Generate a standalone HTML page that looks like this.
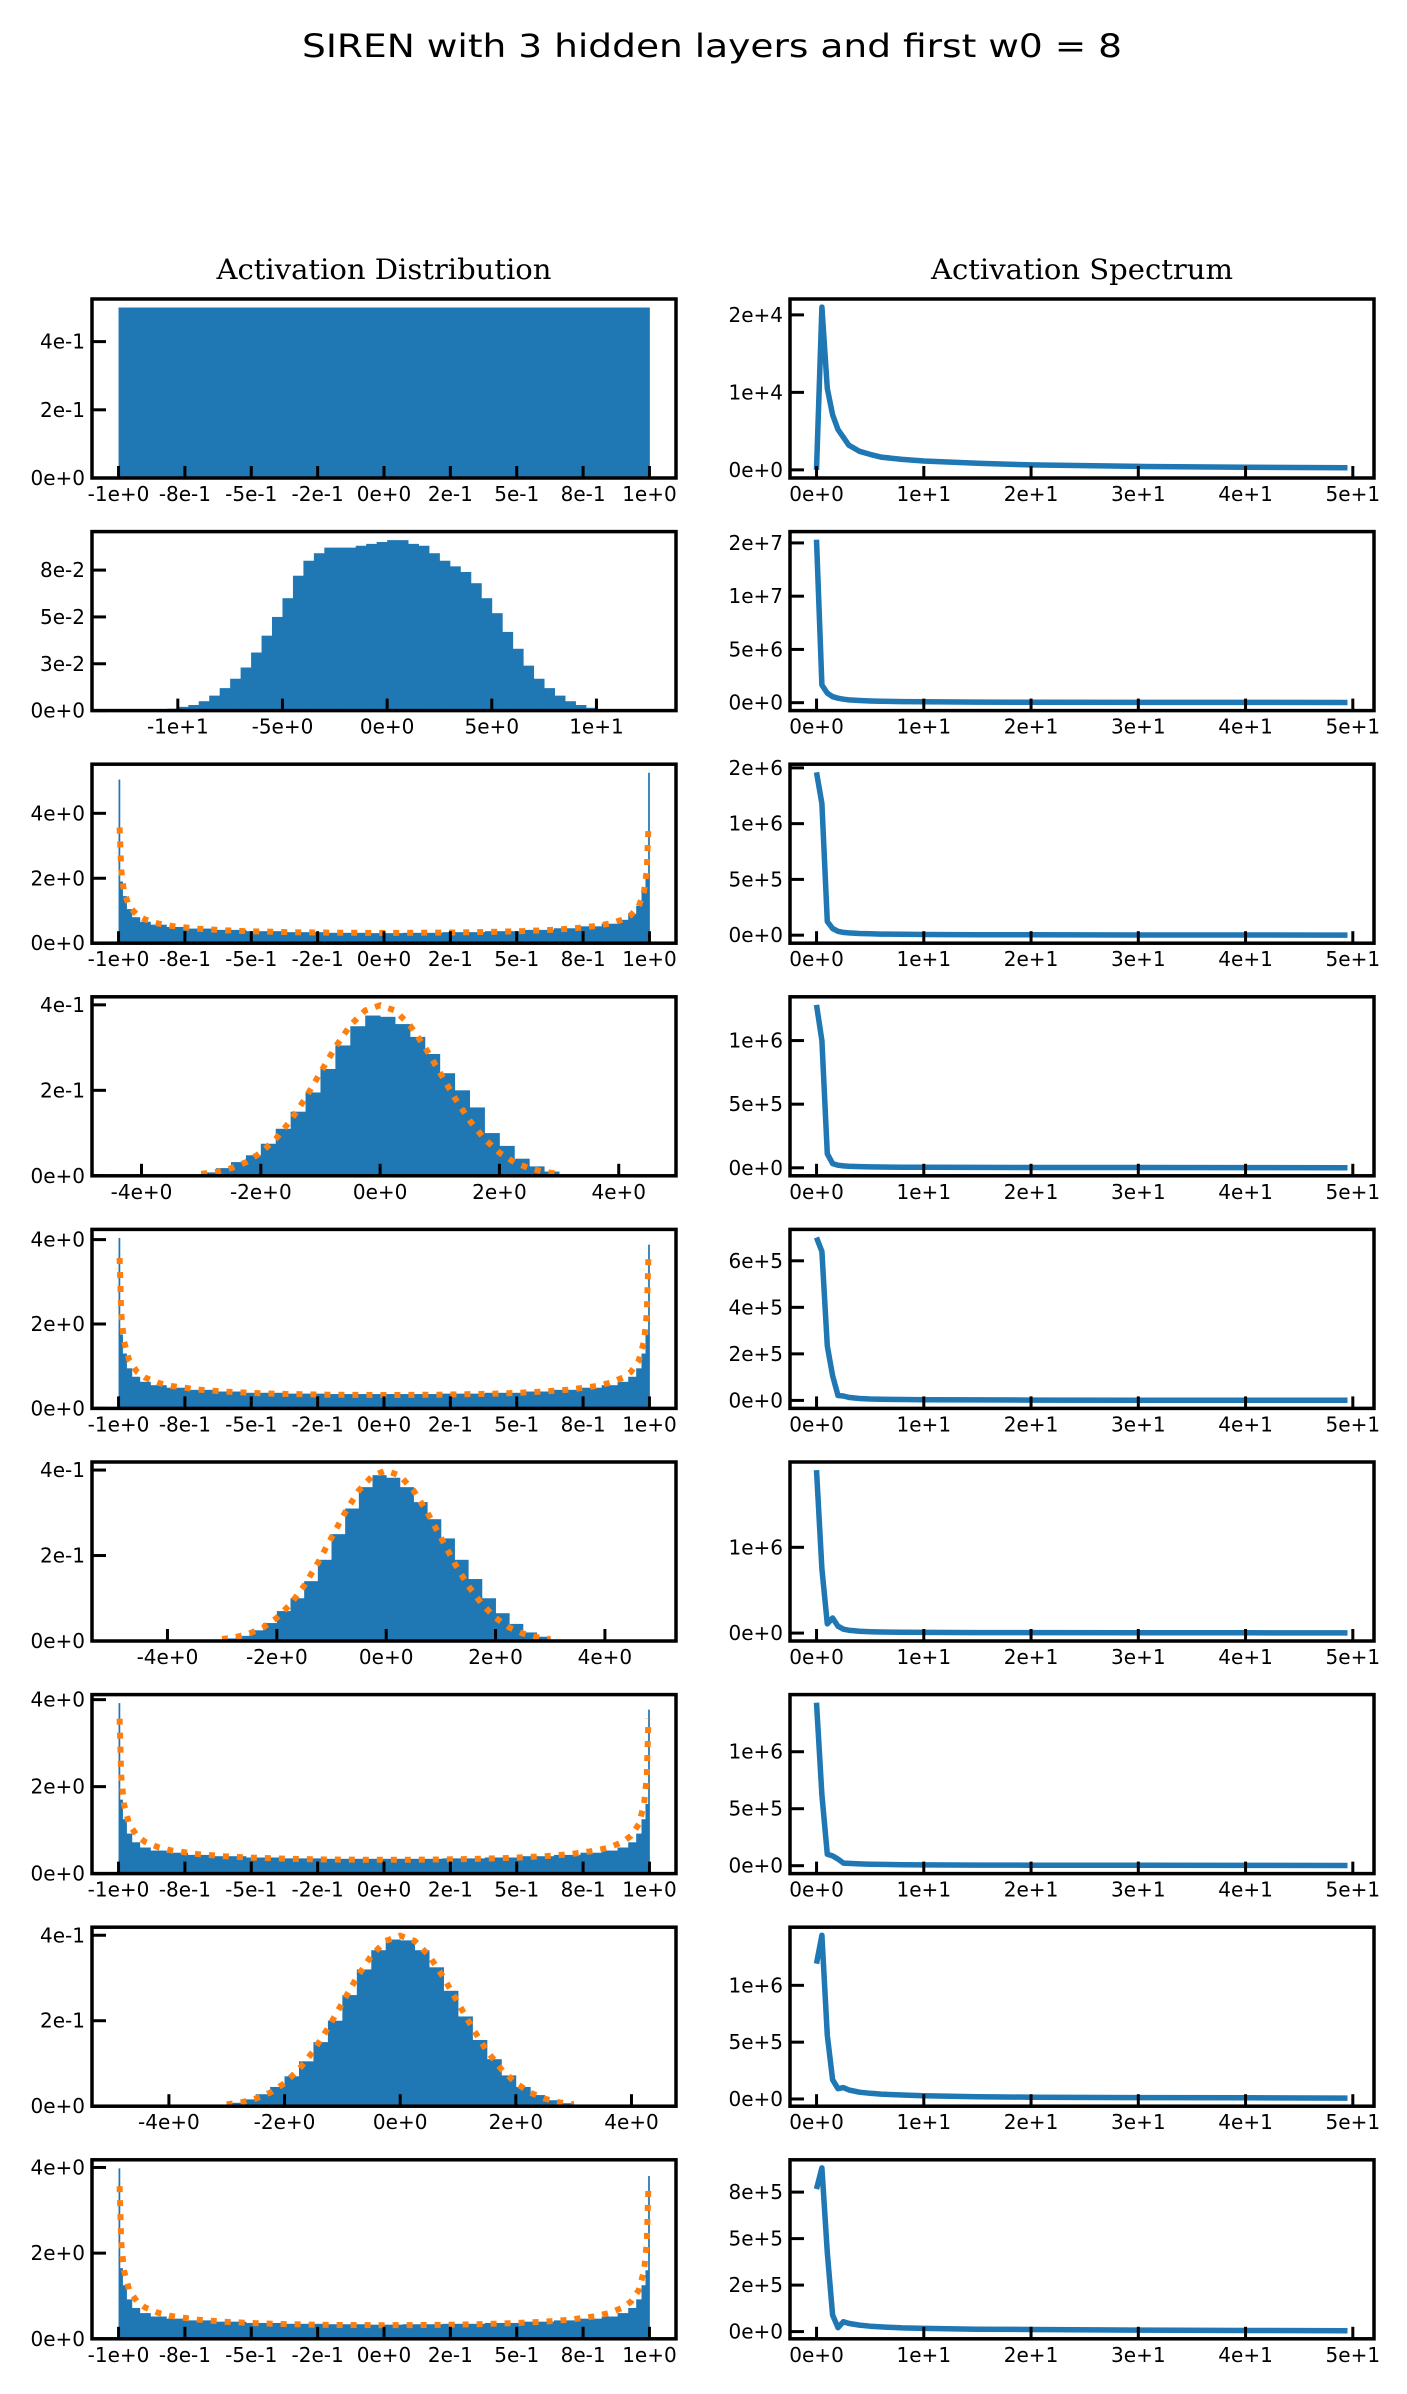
<!DOCTYPE html>
<html><head><meta charset="utf-8"><style>
html,body{margin:0;padding:0;background:#fff;}
svg{display:block;}
</style></head><body>
<svg id="fig" width="1407" height="2394" viewBox="0 0 1407 2394" xmlns="http://www.w3.org/2000/svg">
<rect x="0" y="0" width="1407" height="2394" fill="#fff"/>
<text x="712" y="57" text-anchor="middle" font-family="DejaVu Sans, Liberation Sans, sans-serif" font-size="32" textLength="820" lengthAdjust="spacingAndGlyphs">SIREN with 3 hidden layers and first w0 = 8</text>
<text x="384" y="279" text-anchor="middle" font-family="DejaVu Serif, Liberation Serif, serif" font-size="28" textLength="335" lengthAdjust="spacingAndGlyphs">Activation Distribution</text>
<text x="1082" y="279" text-anchor="middle" font-family="DejaVu Serif, Liberation Serif, serif" font-size="28" textLength="302" lengthAdjust="spacingAndGlyphs">Activation Spectrum</text>
<g id="plots"></g>
</svg>
<script>
// ---------- data: histograms (left column) ----------
const arcEdges = [-1,-0.995,-0.985,-0.97,-0.95,-0.92,-0.88,-0.82,-0.74,-0.64,-0.52,-0.38,-0.22,-0.07,0.07,0.22,0.38,0.52,0.64,0.74,0.82,0.88,0.92,0.95,0.97,0.985,0.995,1];
const gaussStart = -3.5, gaussWidth = 0.25;
const wideStart = -11, wideWidth = 0.5;

const hist1Edges = [-1, 1];
const hist1Vals = [0.5];
const hist2Vals = [0.0003,0.001,0.002,0.003,0.005,0.008,0.012,0.017,0.023,0.031,0.04,0.05,0.06,0.072,0.08,0.084,0.087,0.087,0.087,0.088,0.089,0.09,0.091,0.091,0.089,0.088,0.084,0.08,0.077,0.074,0.068,0.06,0.052,0.042,0.033,0.024,0.017,0.012,0.008,0.005,0.003,0.0015,0.0008,0.0003];
const hist3Vals = [5.04,1.9,1.45,1.05,0.8,0.66,0.57,0.5,0.45,0.41,0.37,0.34,0.32,0.31,0.32,0.34,0.37,0.41,0.46,0.52,0.6,0.72,0.9,1.15,1.6,2.0,5.25];
const hist4Vals = [0.001,0.003,0.008,0.018,0.032,0.048,0.075,0.11,0.15,0.195,0.25,0.305,0.35,0.375,0.372,0.355,0.325,0.285,0.24,0.2,0.16,0.1,0.07,0.04,0.022,0.01,0.003,0.001];
const hist5Vals = [4.04,1.75,1.3,0.95,0.75,0.63,0.55,0.49,0.44,0.4,0.37,0.35,0.34,0.34,0.34,0.35,0.37,0.4,0.44,0.49,0.55,0.63,0.75,0.95,1.3,1.75,3.88];
const hist6Vals = [0.001,0.002,0.006,0.012,0.025,0.042,0.07,0.1,0.14,0.19,0.25,0.31,0.36,0.388,0.382,0.36,0.325,0.285,0.24,0.19,0.145,0.1,0.065,0.04,0.02,0.01,0.003,0.001];
const hist7Vals = [3.92,1.7,1.25,0.92,0.72,0.6,0.53,0.48,0.43,0.4,0.37,0.35,0.34,0.34,0.34,0.35,0.37,0.4,0.43,0.48,0.53,0.6,0.72,0.92,1.25,1.6,3.77];
const hist8Vals = [0.001,0.003,0.008,0.016,0.028,0.045,0.07,0.105,0.15,0.2,0.26,0.32,0.365,0.39,0.388,0.365,0.325,0.27,0.21,0.155,0.11,0.072,0.045,0.026,0.014,0.007,0.003,0.001];
const hist9Vals = [3.98,1.65,1.25,0.92,0.72,0.6,0.52,0.47,0.43,0.4,0.37,0.35,0.34,0.33,0.34,0.35,0.37,0.4,0.43,0.47,0.52,0.6,0.72,0.92,1.25,1.6,3.8];

// theoretical curves (orange dotted)
const arcCurveX = [-0.996,-0.99,-0.98,-0.96,-0.93,-0.9,-0.85,-0.8,-0.7,-0.6,-0.5,-0.4,-0.3,-0.2,-0.1,0,0.1,0.2,0.3,0.4,0.5,0.6,0.7,0.8,0.85,0.9,0.93,0.96,0.98,0.99,0.996];
const arcCurveY = [3.562,2.256,1.6,1.137,0.866,0.73,0.604,0.531,0.446,0.398,0.368,0.347,0.334,0.325,0.32,0.318,0.32,0.325,0.334,0.347,0.368,0.398,0.446,0.531,0.604,0.73,0.866,1.137,1.6,2.256,3.562];
const normCurveX = [-3,-2.75,-2.5,-2.25,-2,-1.75,-1.5,-1.25,-1,-0.75,-0.5,-0.25,0,0.25,0.5,0.75,1,1.25,1.5,1.75,2,2.25,2.5,2.75,3];
const normCurveY = [0.0044,0.0091,0.0175,0.0317,0.054,0.0863,0.1295,0.1826,0.242,0.3011,0.3521,0.3867,0.3989,0.3867,0.3521,0.3011,0.242,0.1826,0.1295,0.0863,0.054,0.0317,0.0175,0.0091,0.0044];

// tick values and labels
const uniTicks = [-1,-0.75,-0.5,-0.25,0,0.25,0.5,0.75,1];
const uniTickLabels = ["-1e+0","-8e-1","-5e-1","-2e-1","0e+0","2e-1","5e-1","8e-1","1e+0"];
const wideTicks = [-10,-5,0,5,10];
const wideTickLabels = ["-1e+1","-5e+0","0e+0","5e+0","1e+1"];
const gaussTicks = [-4,-2,0,2,4];
const gaussTickLabels = ["-4e+0","-2e+0","0e+0","2e+0","4e+0"];
const yTicks1 = [0,0.2,0.4], yLabels1 = ["0e+0","2e-1","4e-1"];
const yTicks2 = [0,0.025,0.05,0.075], yLabels2 = ["0e+0","3e-2","5e-2","8e-2"];
const yTicksArc = [0,2,4], yLabelsArc = ["0e+0","2e+0","4e+0"];

// ---------- data: spectra (right column) ----------
const specX = [0,0.5,1,1.5,2,2.5,3,4,5,6,8,10,15,20,30,40,49.5];
const spec1 = [0,21000,10500,7100,5200,4200,3200,2400,2000,1650,1350,1150,850,640,450,330,260];
const spec2 = [15300000,1660000,900000,560000,420000,330000,260000,200000,160000,130000,100000,80000,50000,40000,30000,25000,20000];
const spec3 = [1460000,1180000,123000,60000,35000,25000,20000,15000,12000,10000,8000,6000,4000,3000,2000,1500,1000];
const spec4 = [1280000,1000000,110000,33000,20000,15000,12000,9000,7000,6000,5000,4000,3000,2500,2000,1500,1000];
const spec5 = [700000,640000,234000,106000,21000,19000,13000,8000,6000,5000,4000,3000,2000,1500,1000,800,600];
const spec6 = [1900000,750000,107000,176000,80000,45000,33000,22000,16000,13000,10000,8000,6000,5000,4000,3000,2500];
const spec7 = [1430000,620000,100000,86000,58000,23000,20000,16000,13000,11000,9000,7000,5000,4000,3000,2500,2000];
const spec8 = [1190000,1440000,560000,170000,90000,100000,80000,60000,50000,43000,35000,28000,20000,16000,12000,10000,8000];
const spec9 = [766000,880000,425000,89000,21000,53000,44000,35000,29000,25000,20000,17000,13000,11000,8000,6000,5000];
const specXTicks = [0,10,20,30,40,50];
const specXTickLabels = ["0e+0","1e+1","2e+1","3e+1","4e+1","5e+1"];
const specYTicks = [[0,10000,20000],[0,5e6,1e7,1.5e7],[0,5e5,1e6,1.5e6],[0,5e5,1e6],[0,2e5,4e5,6e5],[0,1e6],[0,5e5,1e6],[0,5e5,1e6],[0,2.5e5,5e5,7.5e5]];
const specYTickLabels = [["0e+0","1e+4","2e+4"],["0e+0","5e+6","1e+7","2e+7"],["0e+0","5e+5","1e+6","2e+6"],["0e+0","5e+5","1e+6"],["0e+0","2e+5","4e+5","6e+5"],["0e+0","1e+6"],["0e+0","5e+5","1e+6"],["0e+0","5e+5","1e+6"],["0e+0","2e+5","5e+5","8e+5"]];

// ---------- rendering ----------
const NS = "http://www.w3.org/2000/svg";
const root = document.getElementById('plots');
const BLUE = "#1f77b4", ORANGE = "#ff7f0e";
const LEFT_X0 = 92, RIGHT_X0 = 790, PW = 584, PH = 179, TOP0 = 299, PITCH = 232.6;

function mk(tag, attrs, parent) {
  const e = document.createElementNS(NS, tag);
  for (const k in attrs) e.setAttribute(k, attrs[k]);
  (parent || root).appendChild(e);
  return e;
}
function uniformEdges(start, width, n) { const e = []; for (let i = 0; i <= n; i++) e.push(start + i * width); return e; }

function axes(g, x0, y0, xlim, ylim, xticks, xlabels, yticks, ylabels) {
  const sx = v => x0 + (v - xlim[0]) / (xlim[1] - xlim[0]) * PW;
  const sy = v => y0 + PH - (v - ylim[0]) / (ylim[1] - ylim[0]) * PH;
  return {sx, sy, finish() {
    xticks.forEach((t, i) => {
      const x = sx(t);
      const tk = mk('line', {x1:x, x2:x, y1:y0+PH, y2:y0+PH-12, stroke:'#000', 'stroke-width':3}, g);
      
      
      const tl = mk('text', {x:x, y:y0+PH+23, 'text-anchor':'middle', 'font-family':'DejaVu Sans, Liberation Sans, sans-serif', 'font-size':20}, g);
      tl.textContent = xlabels[i];
      
      
    });
    yticks.forEach((t, i) => {
      const y = sy(t);
      const tk = mk('line', {x1:x0, x2:x0+14, y1:y, y2:y, stroke:'#000', 'stroke-width':3}, g);
      
      
      const tl = mk('text', {x:x0-7, y:y+7, 'text-anchor':'end', 'font-family':'DejaVu Sans, Liberation Sans, sans-serif', 'font-size':20}, g);
      tl.textContent = ylabels[i];
      
      
    });
    const fr = mk('rect', {x:x0, y:y0, width:PW, height:PH, fill:'none', stroke:'#000', 'stroke-width':3.5}, g);
    
    
  }};
}

const leftPanels = [
  {edges: hist1Edges, vals: hist1Vals, xlim: [-1.1,1.1], xt: uniTicks, xl: uniTickLabels, yt: yTicks1, yl: yLabels1, curve: null},
  {edges: uniformEdges(wideStart, wideWidth, hist2Vals.length), vals: hist2Vals, xlim: [-14.1,13.8], xt: wideTicks, xl: wideTickLabels, yt: yTicks2, yl: yLabels2, curve: null},
  {edges: arcEdges, vals: hist3Vals, xlim: [-1.1,1.1], xt: uniTicks, xl: uniTickLabels, yt: yTicksArc, yl: yLabelsArc, curve: 'arc'},
  {edges: uniformEdges(gaussStart, gaussWidth, hist4Vals.length), vals: hist4Vals, xlim: [-4.83,4.96], xt: gaussTicks, xl: gaussTickLabels, yt: yTicks1, yl: yLabels1, curve: 'norm'},
  {edges: arcEdges, vals: hist5Vals, xlim: [-1.1,1.1], xt: uniTicks, xl: uniTickLabels, yt: yTicksArc, yl: yLabelsArc, curve: 'arc'},
  {edges: uniformEdges(gaussStart, gaussWidth, hist6Vals.length), vals: hist6Vals, xlim: [-5.38,5.3], xt: gaussTicks, xl: gaussTickLabels, yt: yTicks1, yl: yLabels1, curve: 'norm'},
  {edges: arcEdges, vals: hist7Vals, xlim: [-1.1,1.1], xt: uniTicks, xl: uniTickLabels, yt: yTicksArc, yl: yLabelsArc, curve: 'arc'},
  {edges: uniformEdges(gaussStart, gaussWidth, hist8Vals.length), vals: hist8Vals, xlim: [-5.33,4.77], xt: gaussTicks, xl: gaussTickLabels, yt: yTicks1, yl: yLabels1, curve: 'norm'},
  {edges: arcEdges, vals: hist9Vals, xlim: [-1.1,1.1], xt: uniTicks, xl: uniTickLabels, yt: yTicksArc, yl: yLabelsArc, curve: 'arc'}
];
const specSeries = [spec1,spec2,spec3,spec4,spec5,spec6,spec7,spec8,spec9];

leftPanels.forEach((p, r) => {
  const y0 = TOP0 + r * PITCH;
  const g = mk('g', {});
  
  
  let cx = null, cy = null;
  if (p.curve === 'arc') { cx = arcCurveX; cy = arcCurveY; }
  if (p.curve === 'norm') { cx = normCurveX; cy = normCurveY; }
  let ymax = Math.max(...p.vals);
  if (cy) ymax = Math.max(ymax, ...cy);
  const ax = axes(g, LEFT_X0, y0, p.xlim, [0, ymax * 1.05], p.xt, p.xl, p.yt, p.yl);
  p.vals.forEach((v, i) => {
    const xa = ax.sx(p.edges[i]), xb = ax.sx(p.edges[i + 1]);
    const b = mk('rect', {x: xa, y: ax.sy(v), width: Math.max(xb - xa, 1.3) + 0.4, height: ax.sy(0) - ax.sy(v), fill: BLUE}, g);
    
    
  });
  if (cx) {
    const d = cx.map((x, i) => (i ? 'L' : 'M') + ax.sx(x).toFixed(1) + ',' + ax.sy(cy[i]).toFixed(1)).join('');
    const c = mk('path', {d: d, fill: 'none', stroke: ORANGE, 'stroke-width': 6, 'stroke-dasharray': '6,8'}, g);
    
    
  }
  ax.finish();
});

specSeries.forEach((ys, r) => {
  const y0 = TOP0 + r * PITCH;
  const g = mk('g', {});
  
  
  const mn = Math.min(...ys), mx = Math.max(...ys), rg = mx - mn;
  const xmn = specX[0], xmx = specX[specX.length - 1], xr = xmx - xmn;
  const ax = axes(g, RIGHT_X0, y0, [xmn - 0.05 * xr, xmx + 0.05 * xr], [mn - 0.05 * rg, mx + 0.05 * rg], specXTicks, specXTickLabels, specYTicks[r], specYTickLabels[r]);
  const d = specX.map((x, i) => (i ? 'L' : 'M') + ax.sx(x).toFixed(1) + ',' + ax.sy(ys[i]).toFixed(1)).join('');
  const l = mk('path', {d: d, fill: 'none', stroke: BLUE, 'stroke-width': 5.5, 'stroke-linejoin': 'round'}, g);
  
  
  ax.finish();
});
</script>
</body></html>
